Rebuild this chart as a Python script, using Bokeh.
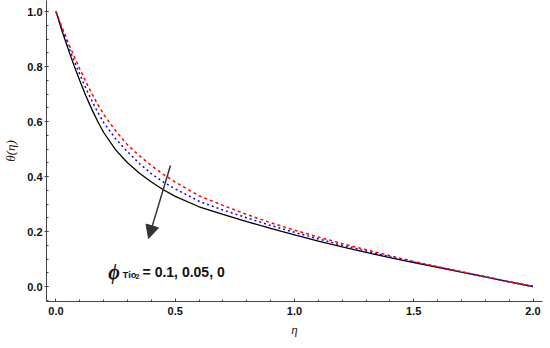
from bokeh.plotting import figure
from bokeh.models import Range1d, SingleIntervalTicker, Arrow, NormalHead, Label, PrintfTickFormatter
from bokeh.embed import file_html
from bokeh.resources import INLINE

# data
eta = [0.0, 0.025, 0.05, 0.075, 0.1, 0.125, 0.15, 0.175, 0.2, 0.25, 0.3, 0.35, 0.4,
       0.45, 0.5, 0.6, 0.7, 0.8, 0.9, 1.0, 1.1, 1.2, 1.3, 1.4, 1.5, 1.6, 1.7, 1.8,
       1.9, 2.0]
theta_phi0 = [1.0, 0.93, 0.866, 0.805, 0.748, 0.694, 0.645, 0.6, 0.56, 0.497, 0.45,
              0.412, 0.38, 0.352, 0.328, 0.29, 0.262, 0.236, 0.211, 0.188, 0.165,
              0.144, 0.124, 0.105, 0.087, 0.07, 0.052, 0.035, 0.017, 0.0]
theta_phi005 = [1.0, 0.936, 0.877, 0.823, 0.771, 0.722, 0.676, 0.634, 0.596, 0.537, 0.49,
                0.447, 0.41, 0.38, 0.355, 0.31, 0.278, 0.25, 0.222, 0.197, 0.173,
                0.15, 0.129, 0.108, 0.089, 0.071, 0.053, 0.035, 0.017, 0.0]
theta_phi01 = [1.0, 0.943, 0.89, 0.839, 0.791, 0.745, 0.702, 0.662, 0.626, 0.566, 0.515,
               0.475, 0.44, 0.408, 0.38, 0.33, 0.295, 0.262, 0.232, 0.205, 0.18,
               0.156, 0.134, 0.112, 0.091, 0.072, 0.054, 0.036, 0.018, 0.0]

x_ticks_interval = 0.5
y_ticks_interval = 0.2

p = figure(output_backend="svg", toolbar_location=None,
           frame_width=496, frame_height=301,
           min_border_left=36, min_border_right=10, min_border_top=0, min_border_bottom=39,
           x_range=Range1d(-0.0398, 2.0398), y_range=Range1d(-0.0545, 1.04))
p.outline_line_color = None
p.xgrid.visible = False
p.ygrid.visible = False
p.background_fill_color = "white"

p.line(eta, theta_phi0, line_color="black", line_width=1.3)
p.line(eta, theta_phi005, line_color="#0000FF", line_width=1.5, line_dash="2 3")
p.line(eta, theta_phi01, line_color="#FF0000", line_width=1.5, line_dash="3 3")

for ax in (p.xaxis[0], p.yaxis[0]):
    ax.axis_line_color = "#444444"
    ax.major_tick_line_color = "#444444"
    ax.minor_tick_line_color = "#444444"
    ax.major_label_text_font = "Liberation Sans"
    ax.major_label_text_font_style = "bold"
    ax.major_label_text_font_size = "11px"
    ax.major_label_text_color = "#111111"
    ax.axis_label_text_font = "Liberation Serif"
    ax.axis_label_text_font_style = "italic"
    ax.axis_label_text_font_size = "13px"
    ax.axis_label_text_color = "#222222"
    ax.formatter = PrintfTickFormatter(format="%.1f")

p.xaxis.ticker = SingleIntervalTicker(interval=x_ticks_interval, num_minor_ticks=5)
p.yaxis.ticker = SingleIntervalTicker(interval=y_ticks_interval, num_minor_ticks=4)
p.xaxis.major_tick_in = 3
p.xaxis.major_tick_out = 0
p.xaxis.minor_tick_in = 2
p.xaxis.minor_tick_out = 0
p.yaxis.major_tick_in = 2
p.yaxis.major_tick_out = 2
p.yaxis.minor_tick_in = 2
p.yaxis.minor_tick_out = 0
p.xaxis.major_label_standoff = 5
p.yaxis.major_label_standoff = 2
p.xaxis.axis_label = "η"
p.yaxis.axis_label = "θ(η)"
p.xaxis.axis_label_standoff = 4
p.yaxis.axis_label_standoff = 6

p.add_layout(Arrow(end=NormalHead(size=13, fill_color="#333333", line_color="#333333"),
                   x_start=0.48, y_start=0.44, x_end=0.388, y_end=0.175,
                   line_color="#333333", line_width=1.5))

p.add_layout(Label(x=0.219, y=0.054, text="ϕ", text_font="Liberation Serif",
                   text_font_style="bold italic", text_font_size="20px", text_color="#111111",
                   text_baseline="alphabetic"))
p.add_layout(Label(x=0.279, y=0.0425, text="Tio", text_font="Liberation Sans",
                   text_font_style="bold", text_font_size="9.5px", text_color="#111111",
                   text_baseline="alphabetic"))
p.add_layout(Label(x=0.333, y=0.036, text="2", text_font="Liberation Sans",
                   text_font_style="bold", text_font_size="7px", text_color="#111111",
                   text_baseline="alphabetic"))
p.add_layout(Label(x=0.363, y=0.051, text="= 0.1, 0.05, 0", text_font="Liberation Sans",
                   text_font_style="bold", text_font_size="14px", text_color="#111111",
                   text_baseline="alphabetic"))

open("out.html", "w").write(file_html(p, INLINE))
